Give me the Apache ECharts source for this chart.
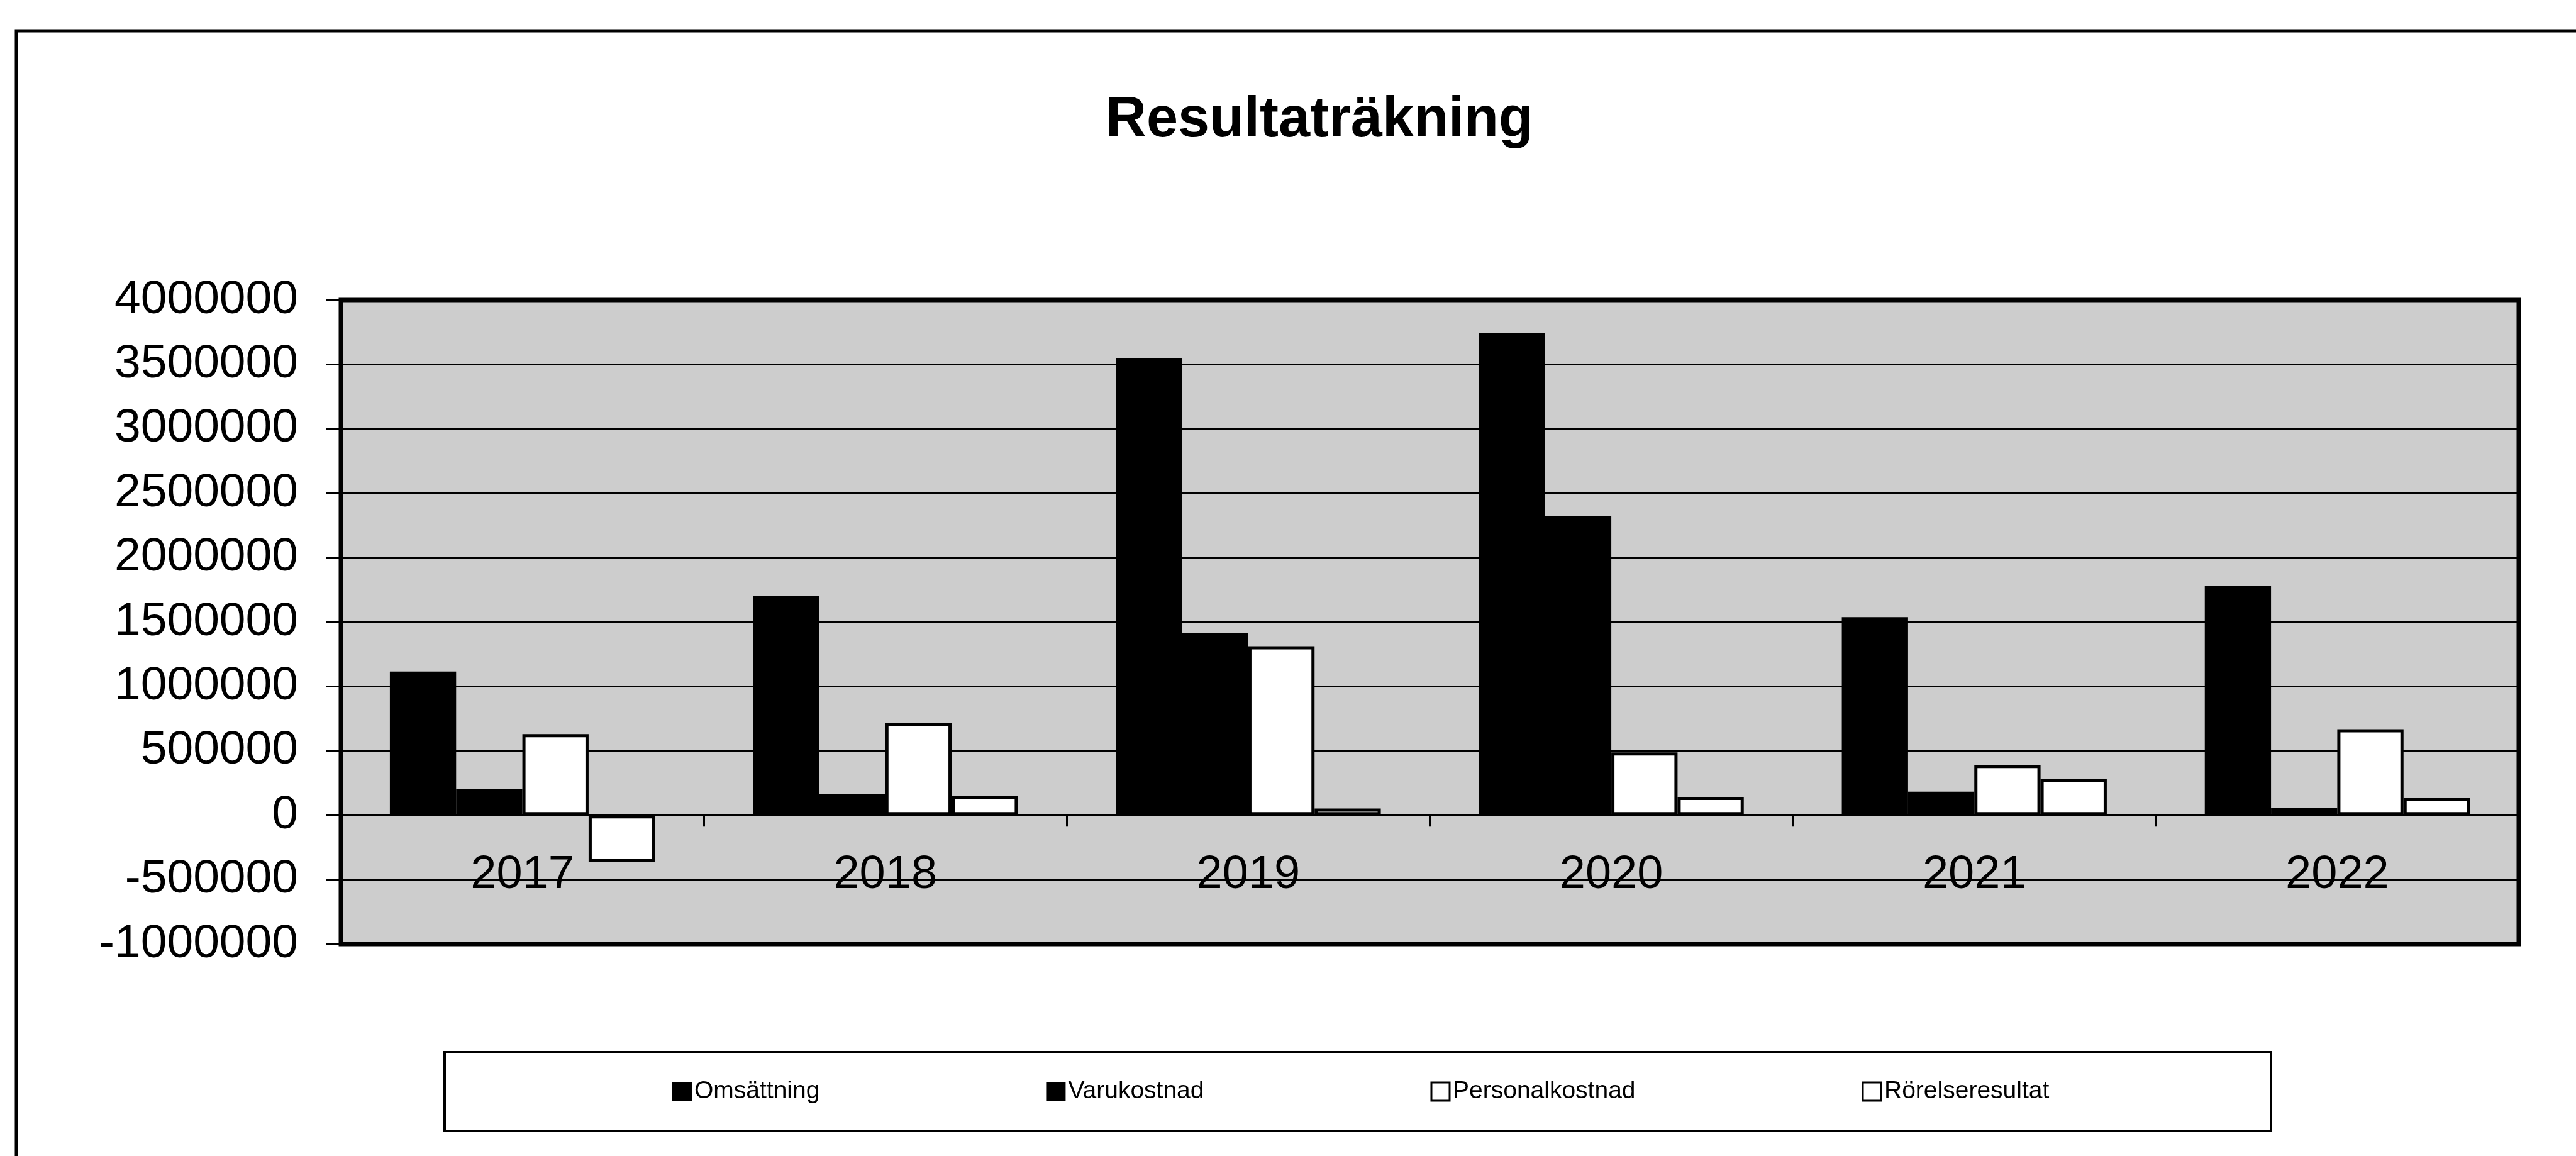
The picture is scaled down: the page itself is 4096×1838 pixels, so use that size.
<!DOCTYPE html>
<html>
<head>
<meta charset="utf-8">
<title>Resultaträkning</title>
<script src="https://cdn.jsdelivr.net/npm/echarts@6/dist/echarts.min.js"></script>
<style>
  html, body { margin: 0; padding: 0; background: #fff; }
  #chart { width: 4096px; height: 1838px; }
</style>
</head>
<body>
<div id="chart"></div>
<script>
// data
var years = ['2017', '2018', '2019', '2020', '2021', '2022'];
var omsattning      = [1115000, 1705000, 3550000, 3745000, 1538000, 1778000];
var varukostnad     = [205000, 165000, 1415000, 2325000, 183000, 60000];
var personalkostnad = [630000, 718000, 1312000, 488000, 390000, 668000];
var rorelseresultat = [-365000, 152000, 52000, 142000, 282000, 135000];
var seriesNames = ['Omsättning', 'Varukostnad', 'Personalkostnad', 'Rörelseresultat'];

var FONT = '"Liberation Sans", Arial, sans-serif';

var chart = echarts.init(document.getElementById('chart'));

var option = {
  backgroundColor: '#fff',
  animation: false,
  title: {
    text: 'Resultaträkning',
    left: 2093,
    textAlign: 'center',
    top: 142,
    textStyle: {
      fontFamily: FONT,
      fontSize: 90,
      fontWeight: 'bold',
      color: '#000'
    }
  },
  legend: {
    left: 1069,
    top: 1716,
    padding: 0,
    itemGap: 360,
    itemWidth: 29,
    itemHeight: 29,
    icon: 'rect',
    textStyle: { fontFamily: FONT, fontSize: 39, color: '#000' },
    data: [
      { name: seriesNames[0], itemStyle: { color: '#000', borderColor: '#000', borderWidth: 2 } },
      { name: seriesNames[1], itemStyle: { color: '#000', borderColor: '#000', borderWidth: 2 } },
      { name: seriesNames[2], itemStyle: { color: '#fff', borderColor: '#000', borderWidth: 3 } },
      { name: seriesNames[3], itemStyle: { color: '#fff', borderColor: '#000', borderWidth: 3 } }
    ]
  },
  grid: {
    left: 542,
    top: 477,
    width: 3463,
    height: 1024,
    show: true,
    backgroundColor: '#cdcdcd',
    borderColor: '#000',
    borderWidth: 7,
    outerBoundsMode: 'none'
  },
  xAxis: {
    type: 'category',
    data: years,
    axisLine: { onZero: true, lineStyle: { color: '#000', width: 3 } },
    axisTick: { show: true, length: 18, lineStyle: { color: '#000', width: 3 } },
    axisLabel: {
      interval: 0,
      // labels sit inside the plot, just under the zero line
      margin: -146,
      fontFamily: FONT,
      fontSize: 74,
      color: '#000'
    },
    splitLine: { show: false }
  },
  yAxis: {
    type: 'value',
    min: -1000000,
    max: 4000000,
    interval: 500000,
    axisLine: { show: false },
    axisTick: { show: true, length: 23, lineStyle: { color: '#000', width: 3 } },
    axisLabel: {
      margin: 68,
      fontFamily: FONT,
      fontSize: 75,
      color: '#000',
      formatter: function (v) { return String(v); }
    },
    splitLine: { show: true, lineStyle: { color: '#000', width: 3 } }
  },
  series: [
    {
      name: seriesNames[0], type: 'bar', data: omsattning,
      barGap: '0%', barCategoryGap: '27%',
      itemStyle: { color: '#000', borderColor: '#000', borderWidth: 0 }
    },
    {
      name: seriesNames[1], type: 'bar', data: varukostnad,
      itemStyle: { color: '#000', borderColor: '#000', borderWidth: 0 }
    },
    {
      name: seriesNames[2], type: 'bar', data: personalkostnad,
      itemStyle: { color: '#fff', borderColor: '#000', borderWidth: 5 }
    },
    {
      name: seriesNames[3], type: 'bar', data: rorelseresultat,
      itemStyle: { color: '#fff', borderColor: '#000', borderWidth: 5 }
    }
  ],
  graphic: [
    {
      // outer chart-area frame, runs off the right and bottom of the scan
      type: 'rect',
      shape: { x: 26, y: 49, width: 5000, height: 5000 },
      style: { fill: 'none', stroke: '#000', lineWidth: 5 },
      silent: true
    },
    {
      // legend frame
      type: 'rect',
      shape: { x: 707, y: 1673, width: 2904, height: 125 },
      style: { fill: 'none', stroke: '#000', lineWidth: 4 },
      silent: true
    }
  ]
};

chart.setOption(option);
</script>
</body>
</html>
